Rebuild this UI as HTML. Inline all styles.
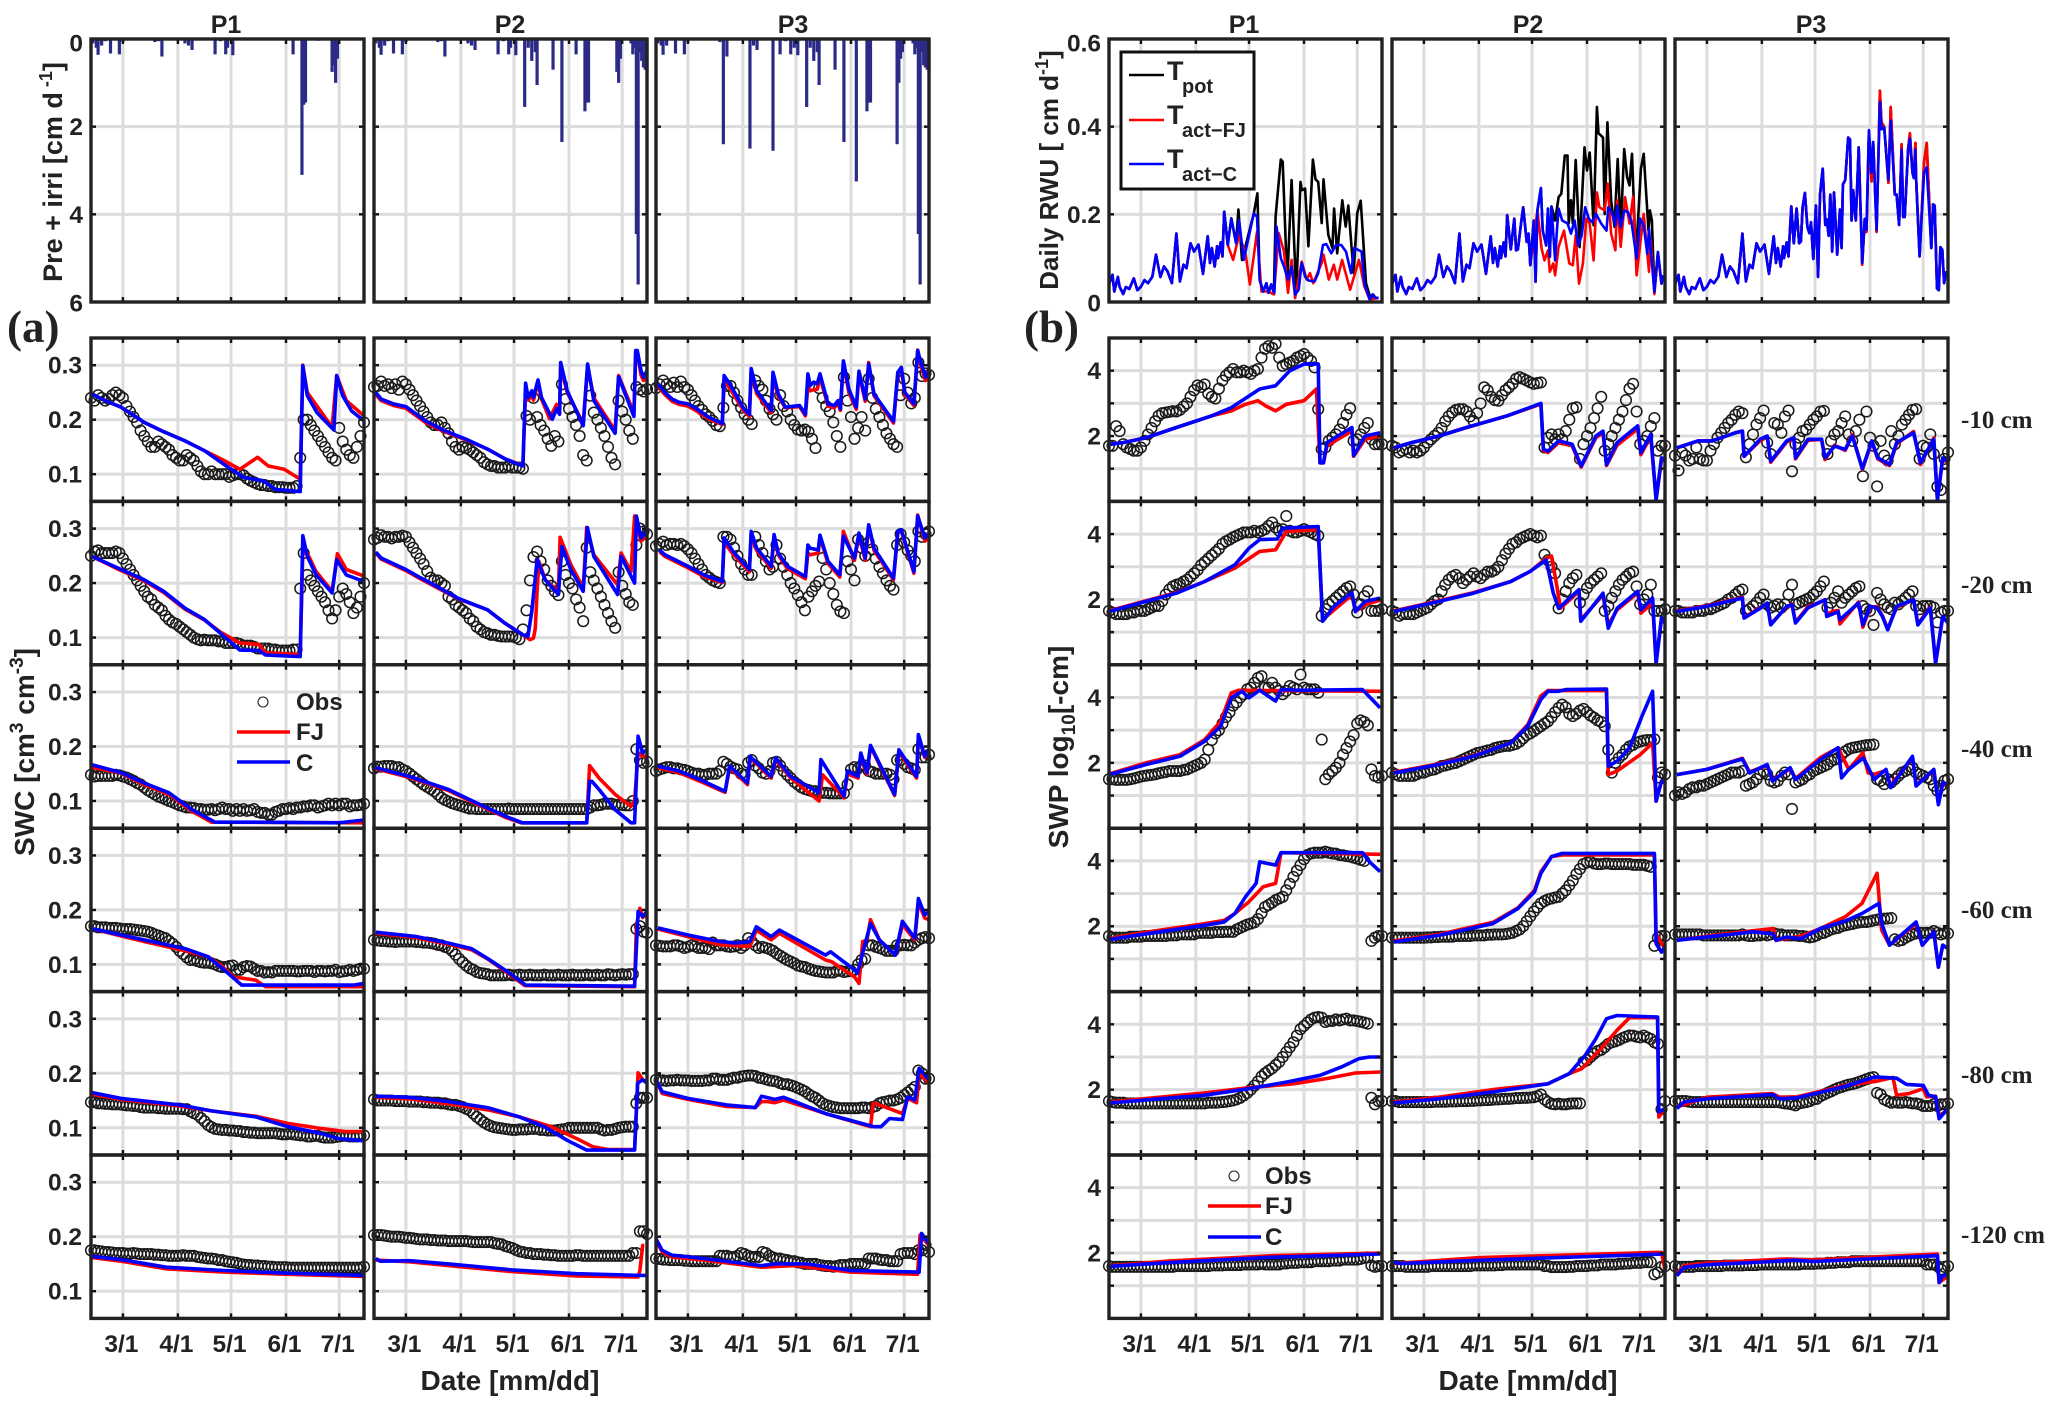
<!DOCTYPE html>
<html lang="en">
<head>
<meta charset="utf-8">
<title>Soil water content and potential panels</title>
<style>
html,body{margin:0;padding:0;background:#fff;}
svg{display:block;font-family:"Liberation Sans",sans-serif;}
text{fill:#222;font-weight:bold;}
.serif{font-family:"Liberation Serif",serif;}
</style>
</head>
<body>
<svg id="chart" xmlns="http://www.w3.org/2000/svg" width="2067" height="1415" viewBox="0 0 2067 1415">
<rect width="2067" height="1415" fill="#fff"/>
<g id="plots"></g>
<g>
<text x="226" y="33" font-size="25" text-anchor="middle">P1</text>
<text x="510" y="33" font-size="25" text-anchor="middle">P2</text>
<text x="793" y="33" font-size="25" text-anchor="middle">P3</text>
<text x="1244" y="33" font-size="25" text-anchor="middle">P1</text>
<text x="1528" y="33" font-size="25" text-anchor="middle">P2</text>
<text x="1811" y="33" font-size="25" text-anchor="middle">P3</text>
</g>
<text class="serif" x="7" y="342" font-size="45">(a)</text>
<text class="serif" x="1024" y="342" font-size="45">(b)</text>
<text transform="translate(62,172) rotate(-90)" font-size="27" text-anchor="middle">Pre + irri [cm d<tspan dy="-10" font-size="18"> -1</tspan><tspan dy="10">]</tspan></text>
<text transform="translate(34,752) rotate(-90)" font-size="28" text-anchor="middle">SWC [cm<tspan dy="-11" font-size="19">3</tspan><tspan dy="11"> cm</tspan><tspan dy="-11" font-size="19">-3</tspan><tspan dy="11">]</tspan></text>
<text transform="translate(1058,170) rotate(-90)" font-size="26" text-anchor="middle">Daily RWU [ cm d<tspan dy="-10" font-size="18">-1</tspan><tspan dy="10">]</tspan></text>
<text transform="translate(1068,747) rotate(-90)" font-size="28" text-anchor="middle">SWP log<tspan dy="7" font-size="19">10</tspan><tspan dy="-7">[-cm]</tspan></text>
<text x="510" y="1390" font-size="28" text-anchor="middle">Date [mm/dd]</text>
<text x="1528" y="1390" font-size="28" text-anchor="middle">Date [mm/dd]</text>
<g class="serif">
<text class="serif" x="1961" y="428" font-size="25">-10 cm</text>
<text class="serif" x="1961" y="593" font-size="25">-20 cm</text>
<text class="serif" x="1961" y="757" font-size="25">-40 cm</text>
<text class="serif" x="1961" y="918" font-size="25">-60 cm</text>
<text class="serif" x="1961" y="1083" font-size="25">-80 cm</text>
<text class="serif" x="1961" y="1243" font-size="25">-120 cm</text>
</g>
<g>
<rect x="1121" y="52" width="133" height="137" fill="#fff" stroke="#111" stroke-width="3"/>
<line x1="1129" x2="1164" y1="75" y2="75" stroke="#000" stroke-width="2.6"/>
<line x1="1129" x2="1164" y1="120" y2="120" stroke="#f00" stroke-width="2.6"/>
<line x1="1129" x2="1164" y1="164" y2="164" stroke="#00f" stroke-width="2.6"/>
<text x="1167" y="80" font-size="27">T<tspan x="1182" y="93" font-size="20">pot</tspan></text>
<text x="1167" y="124" font-size="27">T<tspan x="1182" y="137" font-size="20">act−FJ</tspan></text>
<text x="1167" y="168" font-size="27">T<tspan x="1182" y="181" font-size="20">act−C</tspan></text>
</g>
<g>
<circle cx="263" cy="702" r="5" fill="none" stroke="#222" stroke-width="1.1"/>
<text x="296" y="710" font-size="24">Obs</text>
<line x1="237" x2="290" y1="732" y2="732" stroke="#f00" stroke-width="3.6"/>
<text x="296" y="740" font-size="24">FJ</text>
<line x1="237" x2="290" y1="762" y2="762" stroke="#00f" stroke-width="3.6"/>
<text x="296" y="771" font-size="24">C</text>
</g>
<g>
<circle cx="1234" cy="1176" r="5" fill="none" stroke="#222" stroke-width="1.1"/>
<text x="1265" y="1184" font-size="24">Obs</text>
<line x1="1208" x2="1261" y1="1206" y2="1206" stroke="#f00" stroke-width="3.6"/>
<text x="1265" y="1214" font-size="24">FJ</text>
<line x1="1208" x2="1261" y1="1237" y2="1237" stroke="#00f" stroke-width="3.6"/>
<text x="1265" y="1245" font-size="24">C</text>
</g>
</svg>
<script>
// ---- shared categories / ticks ----
const monthDays=[0,31,61,92,122];
const monthLabels=['3/1','4/1','5/1','6/1','7/1'];
const dayDomain=[-18,136];
const obsFirstDay=-18, obsStepDays=2;
const swcDomain=[50,350]; const swcGrid=[100,200,300]; const swcTickLabels=['0.1','0.2','0.3'];
const swpDomain=[0,500]; const swpGrid=[100,200,300,400]; const swpTickLabels=['','2','','4'];
const precipDomain=[0,6]; const precipGrid=[2,4]; const precipTicks=[0,2,4,6];
const rwuDomain=[0,600]; const rwuGrid=[200,400]; const rwuTicks=[0,200,400,600]; const rwuTickLabels=['0','0.2','0.4','0.6'];

// ---- precipitation + irrigation: day, depth [cm/d] ----
const precipDaysP1=[-17,-15,-14,-12,-10,-7,-2,0,18,20,22,24,35,37,39,45,48,52,55,58,59,62,84,96,101,102,103,110,118,119,120,121];
const precipValsP1=[.1,.2,.36,.15,.05,.33,.35,.07,.07,.05,.4,.03,.1,.15,.25,.03,.03,.35,.05,.35,.2,.37,.02,.35,3.1,1.5,1.45,.04,.75,.6,1,.45];
const precipDaysP2=[-17,-15,-14,-12,-10,-7,-2,0,18,20,22,24,35,37,39,45,48,52,55,58,59,62,67,69,71,73,74,83,88,96,101,102,103,110,119,120,121,127,128,129,130,131,132,133,134,135,136];
const precipValsP2=[.1,.2,.36,.15,.05,.33,.35,.07,.07,.05,.4,.03,.1,.15,.25,.03,.03,.35,.05,.35,.2,.37,1.55,.2,.5,.3,1.05,.7,2.35,.35,1.65,1.45,1.45,.03,.75,1,.45,.1,.35,.2,4.45,5.6,.3,.5,.65,.7,.75];
const precipDaysP3=[-17,-15,-14,-12,-10,-7,-2,0,18,20,22,24,35,37,39,45,48,52,55,58,60,62,67,69,71,73,74,83,88,95,101,102,103,110,118,119,120,121,127,128,129,130,131,132,133,134,135,136];
const precipValsP3=[.1,.15,.36,.15,.03,.33,.35,.07,.07,2.4,.4,.03,2.5,.15,.25,.03,2.55,.35,.05,.35,.2,.37,1.55,.2,.5,.3,1.05,.7,2.35,3.25,1.65,1.45,1.45,.03,2.4,1,.45,.3,.1,.35,.2,4.45,5.6,.3,.6,.65,.7,.75];

// ---- daily root water uptake: day, value [0.001 cm/d] ----
const rwuEarly=[-18,40,-16,62,-15,24,-13,57,-12,35,-10,18,-8.5,34,-6.5,30,-4,54,-2,27,0,35,2,50,4,43,6.5,58,8.5,108,11,57,13,81,15,70,17.5,43,20,156,22,47,24,85,25.7,77,28,134,30,115,32.5,131,35,64,37.7,150,39,89,40,123,41.6,81,43,127,43.5,100,45,136,46,104];
const rwuLateC3=[47.6,218,49,134,50.6,213,52,134,53,138,54,216,55.3,249,56.7,171,57.8,157,58.7,182,60,98,61.5,220,62.7,57,63.8,245,65.3,304,66.8,176,67.6,189,68.7,151,69.6,245,70.7,115,71.7,250,73.5,108,75,211,76,123,76.7,268,78,278,79.7,375,80.7,371,81.6,186,82.5,255,84,186,85.6,353,87.6,89,89,190,90,165,91.4,392,92.9,295,93.8,365,95.7,165,97.6,456,98.5,394,100,398,102.4,279,103.7,414,106,245,107,245,108.4,176,109.8,348,110.7,194,111.6,194,113.5,348,114.5,373,116,295,116.7,283,117.6,348,118,283,120,104,122.5,295,124,307,126.6,123,127.6,223,128.5,220,129.8,31,130.8,27,131.7,125,132.8,119,133.8,43,135,70];
const rwuLateF3=[47.6,218,49,134,50.6,213,52,134,53,138,54,216,55.3,249,56.7,171,57.8,157,58.7,182,60,98,61.5,220,62.7,57,63.8,245,65.3,304,66.8,176,67.6,189,68.7,151,69.6,245,70.7,115,71.7,250,73.5,108,75,211,76,123,76.7,268,78,278,79.7,375,80.7,371,81.6,186,82.5,255,84,186,85.6,353,87.6,85,89,185,90,160,91.4,388,92.9,275,93.8,365,95.7,160,97.6,482,98.5,410,100,400,102.4,272,103.7,445,106,245,107,245,108.4,176,109.8,360,110.7,194,111.6,194,113.5,348,114.5,385,116,295,116.7,283,117.6,363,118,283,120,104,122.5,320,124,363,126.6,123,127.6,223,128.5,220,129.8,31,130.8,27,131.7,125,132.8,119,133.8,43,135,70];
const rwuLatePotP1=[47,206,49,130,51,191,53.7,134,55,211,57,96,63.7,202,65.7,248,67,50,69,24,70.8,43,72,21,73.5,40,75,21,76,195,78.9,325,80,320,82.5,45,85,278,87.6,20,90,274,90.7,255,92.6,259,94.5,127,97,325,98.5,280,100,274,102,180,103,280,105.7,153,108,123,109,213,110.7,111,113.6,232,115.5,172,117,220,120,66,122,202,124,231,127,43,129.7,6,131,17,132.5,9,134,10];
const rwuLateFJP1=[47,206,49,130,52,96,55.4,153,59,111,61.5,40,65.5,160,68,24,70,24,72,24,75,17,77.7,157,80.7,115,83,21,85,96,87,9,90.7,92,93.5,51,95.4,66,97.2,43,102,89,103,108,106,51,108.8,85,110.7,51,113.5,96,118,28,123,96,126,36,129,6,134,9];
const rwuLateCP1=[47,206,49,130,51,191,53.7,134,55.4,187,58,96,63.7,202,65.5,195,67,50,69,24,70.8,43,72,21,73.5,40,75.3,21,76.5,172,78.9,100,80.7,81,83,51,85,81,87,17,89,28,90.7,89,92.6,58,94.5,49,98,47,100,66,102.7,130,104.6,132,107.4,111,110,130,113,130,115.7,115,118.5,66,120.4,123,124.5,115,126,43,129,6,130.6,17,132.5,9,134,10];
const rwuLateCP2=[47,198,49,120,51,190,52,118,53,120,55,186,56,216,58,137,59,156,60,84,62,186,63,46,64,209,66,260,67,163,69,129,70,213,71,103,72,218,74,95,75,163,76,213,78,186,81,179,83,156,85,186,87,129,89,152,91,216,93,190,95,182,97,201,100,179,103,163,104,216,106,205,108,175,109,220,111,171,113,209,115,205,117,186,120,99,122,190,124,175,126,110,127,167,130,23,132,114,134,42,135,61];
const rwuLateFJP2=[47,198,49,120,51,190,52,118,53,120,55,186,56,216,58,137,59,156,60,84,64,209,66.4,122,68,95,70,118,71,69,73,88,74,61,76,126,79,163,82,88,84,84,85.6,152,87.5,42,89.7,88,91.6,190,93.5,179,95.7,95,97.6,250,99,216,102,209,103.7,270,105.6,156,108,118,109,232,111,126,113.5,239,116,179,118,240,120,61,124,201,127,69,128,141,130,18,132,110,134,42,135,61];
const rwuLatePotP2=[47,198,49,120,51,190,52,118,53,120,55,186,56,216,58,137,59,156,60,84,62,186,63,46,64,209,66,260,67,163,69,129,70,213,71,103,72,218,74,186,76,239,77.5,247,79.5,334,81,334,81.7,179,83,232,84,179,85.6,324,87.8,125,90.6,353,92,300,93.5,341,95.7,175,97.6,445,98.5,385,101,375,102,201,103.5,410,105.6,232,107.5,171,109.3,326,111,163,113,349,114.6,285,116,266,117.4,338,119.6,99,122.4,304,124,338,126.7,163,127.5,209,128.6,186,130,23,132,114,134,42,135,61];
const rwuCP1=rwuEarly.concat(rwuLateCP1), rwuFJP1=rwuEarly.concat(rwuLateFJP1), rwuPotP1=rwuEarly.concat(rwuLatePotP1);
const rwuCP2=rwuEarly.concat(rwuLateCP2), rwuFJP2=rwuEarly.concat(rwuLateFJP2), rwuPotP2=rwuEarly.concat(rwuLatePotP2);
const rwuCP3=rwuEarly.concat(rwuLateC3), rwuFJP3=rwuEarly.concat(rwuLateF3), rwuPotP3=rwuEarly.concat(rwuLateF3);

// ---- SWC observations: every 2 days from day -18 [0.001 cm3/cm3] ----
const swcObs10P1=[240,235,245,240,235,238,245,250,245,240, 225,215,205,195,180,170,160,150,150,160, 155,150,145,135,130,125,125,135,130,125, 115,105,100,100,105,100,100,100,100,95, 98,100,100,98,92,88,85,82,80,80, 78,78,76,76,76,75,75,75,78,130, 200,200,190,180,170,160,150,140,130,125, 185,160,145,135,130,150,170,195];
const swcObs10P2=[260,262,270,262,265,258,265,255,270,265, 255,245,235,225,215,205,195,190,190,195, 185,175,160,150,145,150,148,145,140,135, 130,122,118,115,115,112,112,112,115,112, 112,112,110,207,200,240,205,190,180,165, 152,170,160,265,238,220,205,190,170,135, 125,244,213,200,185,170,150,130,118,235, 215,200,180,165,260,255,252,256];
const swcObs10P3=[258,265,272,265,260,268,260,270,260,255, 245,235,225,218,210,205,198,190,188,222, 262,262,250,235,222,210,200,192,272,262, 255,235,220,210,200,245,225,215,200,190, 182,180,182,178,165,148,258,240,225,215, 195,170,150,278,235,205,165,185,205,180, 275,240,220,205,190,175,165,155,150,245, 275,250,230,240,305,280,285,282];
const swcObs20P1=[250,258,260,255,255,255,255,258,255,245, 235,225,215,205,195,185,175,170,160,155, 150,140,133,128,125,120,115,110,105,100, 97,95,96,95,95,95,93,93,90,90, 90,90,88,85,85,85,83,80,80,80, 80,78,78,76,76,76,76,78,78,190, 255,215,205,195,185,175,165,150,135,150, 175,190,180,165,145,155,175,200];
const swcObs20P2=[280,283,288,285,285,282,285,285,287,285, 275,265,255,245,235,222,210,205,205,200, 195,175,170,160,155,150,145,135,130,120, 115,110,108,105,105,103,102,102,102,102, 100,97,115,150,205,248,258,240,225,205, 195,185,178,240,215,200,190,170,155,130, 265,220,205,190,175,160,145,130,118,220, 195,180,165,160,270,300,295,290];
const swcObs20P3=[268,272,276,270,272,272,270,272,268,262, 255,245,235,225,215,210,205,202,200,285, 285,280,265,250,235,225,215,215,285,270, 255,240,225,230,270,245,230,215,200,190, 178,165,150,175,185,195,203,246,225,200, 180,160,148,145,240,225,205,280,265,250, 275,262,245,230,218,205,195,188,270,290, 275,260,250,240,295,285,290,295];
const swcObs40P1=[148,145,146,146,146,146,146,148,147,145, 143,140,137,133,130,125,120,116,112,108, 106,103,100,98,95,92,90,88,88,87, 85,85,84,84,85,83,85,88,85,85, 82,85,82,85,82,83,85,80,78,78, 75,75,80,82,85,85,87,85,88,88, 90,90,92,92,88,90,92,95,92,95, 92,95,95,90,92,92,93,95];
const swcObs40P2=[160,163,163,164,164,164,162,162,158,155, 150,145,140,135,130,126,122,118,112,106, 102,99,96,94,92,90,88,86,86,85, 85,85,85,85,85,85,85,85,86,85, 85,85,85,85,85,85,85,85,85,85, 85,85,85,85,85,85,85,85,85,85, 85,88,92,92,93,95,95,95,93,93, 93,92,92,100,195,175,170,172];
const swcObs40P3=[155,158,160,162,162,160,160,158,157,155, 152,150,150,148,148,150,150,150,155,172, 168,163,160,158,150,148,170,175,165,160, 152,150,155,170,172,165,155,148,142,135, 130,125,122,120,118,118,116,115,115,114, 114,114,114,114,130,158,162,160,165,165, 155,153,150,150,150,150,148,140,175,175, 168,162,160,157,195,180,180,185];
const swcObs60P1=[170,170,168,168,168,167,167,167,166,165, 165,165,164,163,162,161,160,158,155,153, 150,148,143,138,132,125,119,113,108,108, 106,104,103,103,102,100,97,95,95,97, 98,90,90,95,97,96,92,88,88,85, 86,85,88,88,88,88,88,88,87,87, 88,88,88,86,88,88,87,88,88,90, 86,87,88,90,88,90,92,92];
const swcObs60P2=[145,144,143,143,142,142,141,142,142,142, 142,142,141,141,140,140,139,138,136,135, 132,130,125,118,110,104,98,93,90,86, 84,83,82,80,80,80,80,80,81,80, 80,81,80,80,81,80,80,80,81,80, 80,80,81,80,80,80,81,80,80,80, 81,80,80,81,80,80,82,81,80,81, 82,81,82,82,165,170,160,158];
const swcObs60P3=[135,134,133,133,133,135,135,133,130,132, 135,133,130,130,130,128,140,135,135,135, 133,132,133,135,130,135,148,142,135,130, 132,130,128,125,120,116,112,108,105,102, 98,96,95,92,90,88,87,86,85,85, 85,88,88,86,87,88,90,100,108,110, 135,135,132,130,128,125,125,125,135,135, 136,135,135,140,145,148,150,148];
const swcObs80P1=[147,147,145,145,144,144,143,143,143,142, 141,141,140,140,138,137,137,137,137,136, 136,135,135,135,135,135,134,134,130,127, 124,118,112,105,101,98,97,96,96,95, 95,94,94,92,92,91,91,90,90,90, 90,90,90,89,88,88,89,88,87,86, 86,84,84,85,85,83,82,82,82,83, 84,85,85,84,84,84,85,86];
const swcObs80P2=[152,150,150,150,150,150,149,149,149,149, 148,148,148,148,147,147,146,146,146,145, 145,143,142,142,140,138,135,132,126,120, 115,110,106,103,101,100,99,98,97,96, 96,97,97,97,98,98,98,96,96,95, 95,95,96,97,98,100,100,100,100,100, 100,100,100,100,97,95,96,96,98,100, 101,102,102,102,145,155,155,155];
const swcObs80P3=[188,187,187,186,187,187,188,187,187,187, 186,186,186,186,187,187,190,190,188,188, 188,190,192,192,194,195,196,196,195,192, 191,189,187,186,185,182,180,180,178,176, 173,170,167,162,158,155,150,145,142,140, 138,137,136,136,136,136,136,136,137,137, 136,138,140,145,147,148,150,150,152,155, 160,165,170,175,205,200,190,190];
const swcObs120P1=[175,175,174,173,172,172,171,170,170,170, 169,169,170,169,168,168,168,168,167,167, 166,166,165,165,165,165,166,165,165,165, 163,162,161,160,160,159,157,157,155,154, 153,152,150,149,148,148,147,147,146,146, 145,145,144,144,144,144,143,143,143,143, 143,143,143,143,143,143,143,143,143,143, 143,143,143,143,143,143,143,145];
const swcObs120P2=[203,203,203,202,201,200,200,200,199,198, 198,197,196,195,195,195,194,194,193,193, 193,192,192,192,192,192,192,191,190,190, 190,190,190,190,188,187,186,183,181,179, 176,173,172,170,170,168,168,168,167,167, 166,166,165,165,165,165,165,166,166,165, 165,165,165,165,165,165,165,165,165,165, 165,165,165,170,170,210,210,205];
const swcObs120P3=[160,159,158,158,157,157,157,157,156,156, 155,155,155,155,155,155,155,155,165,165, 165,163,163,165,170,168,165,163,163,163, 172,170,165,162,160,160,158,157,155,155, 153,152,150,150,150,150,148,147,146,146, 145,146,148,148,148,150,150,150,150,150, 160,160,160,158,157,157,155,155,155,168, 170,170,170,168,175,175,185,172];

// ---- SWC simulations: day, value pairs [0.001 cm3/cm3] ----
const swcC10P1=[-18,248,-10,235,-1,223,12,195,23,178,35,161,46,143,57,118,68,94,79,88,86,72,100,68,101.5,299,104,244,109.5,213,119,181,120.6,281,124,244,129,216,136,198];
const swcF10P1=[-18,248,-10,235,-1,223,12,195,23,178,35,161,46,143,57,125,66,109,76,131,82,115,91,109,100,91,101.5,300,104,250,118,186,120.6,281,126,235,136,207];
const swcC10P2=[-17,250,-14,238,-7,229,0,224,11,198,21,181,34,164,46,146,56,128,66,115,67.5,267,69,241,71,253,72,241,74.5,273,76.5,241,82.6,201,85,220,86.7,210,87.3,305,91,253,100,189,102.5,302,106,235,118,175,120,279,128.6,206,129.6,327,130.5,327,132.6,290,134,278,136,290];
const swcF10P2=[-17,246,-14,235,-7,226,0,221,11,195,21,179,34,163,46,146,56,128,66,116,67.5,255,69,236,71,246,72,236,74.5,268,76.5,238,81,202,85,228,86.7,222,87.3,298,91,250,100,193,102.5,298,106,240,118,180,120,281,128.6,212,129.6,325,130.5,325,132.6,282,134,272,136,285];
const swcC10P3=[-17,266,-13,250,-9,238,-5,232,0,229,5,220,12,204,19.4,193,20.4,281,23.5,266,31.6,220,34.7,210,35.7,294,38.8,253,47,217,48,287,51,247,55,223,63,226,66.3,210,67.7,284,69,263,71,269,73,266,74.5,284,79,229,82.6,226,84.7,235,86,220,87.7,308,90.8,256,95,223,96.5,289,100,238,102,302,105,247,116,197,118.4,287,120.4,296,122.4,250,127.5,229,129.6,327,130.6,315,134,278,136,290];
const swcF10P3=[-17,262,-13,246,-9,234,-5,228,0,225,5,216,12,201,19.4,191,20.4,272,23.5,258,31.6,216,34.7,206,35.7,290,38.8,248,47,213,48,280,51,242,55,222,63,224,66.3,207,67.7,262,69,253,71,255,73,256,74.5,278,79,225,82.6,222,84.7,230,86,217,87.7,305,90.8,250,95,219,96.5,286,100,234,102,305,105,244,116,194,118.4,284,120.4,294,122.4,246,127.5,226,129.6,328,130.6,308,134,272,136,285];
const swcC20P1=[-18,250,-1,225,12,206,23,185,35,154,46,133,55,108,66,77,77,76,80.5,68,100,65,101.5,287,104,249,109,215,118,182,120.6,243,126,215,136,203];
const swcF20P1=[-18,250,-1,223,12,204,23,183,35,152,46,132,55,110,66,90,77,87,80.5,72,100,69,101.5,255,104,255,109,221,118,185,121,254,126,225,136,213];
const swcC20P2=[-17,257,-14,246,0,225,7,212,19,191,29.6,172,46,151,56,126,66,105,68.8,102,71,148,74,243,78.6,206,86,179,88,267,93,225,100,185,102.4,302,106,249,119.4,179,121.4,249,129,200,130,323,132.6,283,135.7,295];
const swcF20P2=[-17,255,-14,244,0,223,7,210,19,189,29.6,171,46,151,56,126,66,105,70,96,72,99,73,117,74,185,75,240,78.6,206,86,185,87,284,93,234,100,191,102,302,106,252,119.4,197,121.4,255,127,221,129,323,132.6,277,135.7,286];
const swcC20P3=[-16,261,-13,252,0,231,9,215,19.4,203,20.4,283,25.5,258,34.7,225,35.7,295,38.8,264,47,231,48.6,289,51,255,56,231,66.3,212,67.7,270,69,264,73.5,261,74.5,288,79,240,85.7,215,87.7,286,94,246,96.5,292,100,246,102,307,105,264,116,209,118.4,295,120.4,298,127.5,221,129.6,323,133.7,283,136,292];
const swcF20P3=[-16,258,-13,249,0,228,9,212,19.4,201,20.4,275,25.5,253,34.7,221,35.7,290,38.8,260,47,227,48.6,285,51,252,56,227,66.3,208,67.7,255,69,252,73.5,255,74.5,285,79,236,85.7,211,87.7,295,94,242,96.5,288,100,242,102,305,105,260,116,206,118.4,292,120.4,296,127.5,218,129.6,325,133.7,277,136,285];
const swcC40P1=[-18,167,-1,152,12,133,26,115,39,84,52,61,75,61,122,60,136,65];
const swcF40P1=[-18,162,-1,151,12,130,26,112,39,81,50,61,136,60];
const swcC40P2=[-17,161,2,145,24,121,42,93,56,72,65.7,60,102,60,103.6,136,105,136,109,121,118,84,127,60,129,60,131,219,133.6,188,136,194];
const swcF40P2=[-17,159,2,143,24,119,42,91,56,70,65,60,102,60,103.6,165,109,142,118,112,127,90,129,100,131,188,133.6,182,136,182];
const swcC40P3=[-17,164,-5,155,7,139,21,118,23.5,164,33.6,133,35,182,47,145,49.5,179,58,145,74,115,75,176,88,109,90,155,96,145,97.5,188,101,152,103,202,116.6,112,119,194,129,145,130,222,133.6,182,136,194];
const swcF40P3=[-17,161,-5,152,7,136,21,116,23.5,161,33.6,130,35,180,47,142,49.5,176,58,142,74,100,76,148,88,106,90,150,96,142,97.5,185,101,149,103,200,116.6,110,119,190,129,142,130,218,133.6,180,136,190];
const swcC60P1=[-18,166,-1,154,12,145,35,129,48,114,57,90,67,62,79,62,130,62,136,65];
const swcF60P1=[-18,166,-1,152,12,142,35,125,48,114,55,99,62.5,77,75,71,80.5,59,136,59];
const swcC60P2=[-17,159,6,151,24,139,37,129,46,111,57,87,67.5,62,129,60,131,197,133.6,188,136,197];
const swcF60P2=[-17,157,6,149,24,137,37,127,46,110,57,85,67,61,129,59,130,170,132,203,133.6,186,136,194];
const swcC60P3=[-17,167,0,154,18,142,27,139,35,142,38.6,169,47,151,51.6,163,77.6,117,80.5,123,94,90,95.7,84,99,126,103,175,108,145,117,117,121,179,128,148,130,221,133.6,191,136,197];
const swcF60P3=[-17,165,0,151,18,136,35,133,38.6,163,47,145,51.6,157,77.6,108,81,105,94,77,96.5,65,98.6,142,101,145,103,182,108,145,117,117,121,173,128,145,130,215,133.6,185,136,182];
const swcC80P1=[-18,165,-1,154,32,142,50,131,75,120,93,102,111,90,122,80,136,76];
const swcF80P1=[-18,162,-1,152,32,140,50,131,75,121,93,108,111,99,126,93,136,93];
const swcC80P2=[-17,158,2,156,24,148,46,137,64,120,78,102,91,77,102,59,129,59,130.7,182,133.6,188,136,182];
const swcF80P2=[-17,156,2,153,24,144,46,133,64,120,82,102,96.5,80,105.5,65,114.5,60,129,60,131,201,133.6,188,136,185];
const swcC80P3=[-18,188,-14.5,166,0,154,21.7,142,38,137,41.5,158,49,152,54,156,77.6,126,105,102,109,102,113.7,117,121,115,124,157,128,151,130.4,209,133.6,197,136,188];
const swcF80P3=[-18,188,-14.5,163,0,152,21.7,139,38,137,41.5,148,45,148,49,146,54,151,77.6,126,103,102,104.5,145,108,142,121,126,124,154,129,146,130.4,200,136,182];
const swcC120P1=[-18,164,-1,158,24.5,144,57,138,93,133,136,129];
const swcF120P1=[-18,162,-1,155,24.5,141,57,135,93,131,136,127];
const swcC120P2=[-17,160,-14.5,155,2,156,24,150,60,139,96,132,132,129,136,129];
const swcF120P2=[-17,157,2,154,24,147,60,136,96,128,131,126,132,138,133.6,184,134.5,184];
const swcC120P3=[-18,196,-14.5,175,-9,166,9,160,41.5,147,49,150,67,150,92,138,130.4,135,131.8,206,136,187];
const swcF120P3=[-18,193,-14.5,172,-9,163,9,157,41.5,144,60,147,92,135,129.5,131,131,203,136,184];

// ---- SWP observations: every 2 days from day -18 [0.01 log10 -cm] ----
const swpObs10P1=[170,170,230,215,175,165,160,155,155,165, 185,205,225,245,262,270,272,274,276,275, 280,290,300,320,340,355,350,358,330,320, 315,345,370,385,395,405,395,395,400,395, 390,400,405,440,467,475,470,482,440,415, 420,425,430,440,445,451,440,430,410,282, 160,165,185,195,205,220,240,265,285,185, 190,205,225,240,190,175,175,175];
const swpObs10P2=[170,165,150,155,160,150,155,150,155,165, 180,190,200,210,225,245,260,272,280,282, 282,275,260,246,270,300,349,340,320,310, 308,325,340,349,360,375,380,375,370,364, 360,362,364,165,195,205,190,205,190,215, 250,285,288,130,175,200,225,255,285,320, 155,175,200,225,250,275,310,345,360,275, 175,185,200,230,255,155,170,170];
const swpObs10P3=[140,95,150,140,125,130,165,130,125,125, 155,175,195,210,225,240,250,265,275,270, 135,175,205,235,255,278,180,145,240,235, 210,260,278,92,175,195,215,220,235,250, 260,275,277,145,185,205,215,240,260,205, 185,215,250,77,275,195,170,46,185,140, 125,215,175,200,235,250,265,280,282,130, 170,165,205,145,45,35,130,150];
const swpObs20P1=[165,160,155,155,155,155,160,160,165,165, 165,170,175,180,180,195,215,230,240,245, 248,255,260,270,280,290,305,315,325,335, 345,355,370,378,383,390,395,400,405,405, 405,410,405,410,415,425,435,420,410,415, 455,410,405,405,410,415,410,405,400,395, 150,170,185,195,205,215,225,235,240,215, 160,185,210,225,165,165,165,170];
const swpObs20P2=[165,160,150,155,155,155,155,160,165,170, 175,185,195,200,225,245,260,270,275,265, 250,260,270,280,270,265,275,285,285,290, 300,320,340,355,370,375,385,390,395,400, 395,390,395,337,320,300,280,173,200,225, 250,265,275,190,215,235,250,260,270,280, 165,180,205,225,245,260,270,280,285,240, 185,200,215,245,165,165,165,170];
const swpObs20P3=[165,165,160,160,160,160,165,165,165,170, 170,175,180,185,190,200,205,215,225,230, 165,170,180,190,205,215,185,175,180,185, 175,185,215,245,185,190,195,200,205,215, 225,240,255,175,190,205,225,190,205,215, 225,235,240,180,170,165,122,220,200,185, 175,170,190,185,195,205,215,225,180,170, 180,180,180,175,130,160,165,165];
const swpObs40P1=[150,150,148,148,148,148,150,152,155,158, 160,162,163,165,168,170,172,175,175,175, 175,178,180,185,190,195,200,210,240,270, 290,300,320,340,355,375,385,400,410,425, 430,445,460,465,430,430,445,430,420,410, 420,435,430,425,470,430,425,425,425,415, 271,150,165,175,185,200,225,245,265,285, 320,330,325,315,180,160,155,160];
const swpObs40P2=[170,165,160,160,160,160,160,165,170,170, 175,178,180,185,190,192,195,198,200,205, 210,215,220,225,230,232,235,238,240,245, 248,250,252,252,255,258,265,275,285,290, 297,305,312,320,327,340,355,368,378,370, 350,343,350,360,365,355,345,338,330,325, 312,240,170,200,215,225,240,250,255,262, 265,268,270,270,272,155,170,165];
const swpObs40P3=[100,110,105,110,120,125,125,130,130,135, 140,145,150,155,160,165,170,170,170,175, 130,135,140,150,165,175,165,145,140,145, 160,170,165,59,140,145,150,160,165,175, 180,185,190,195,205,210,215,225,235,242, 246,248,250,252,254,255,256,150,145,135, 150,140,150,160,170,175,180,185,170,165, 160,155,150,130,115,130,145,150];
const swpObs60P1=[170,165,165,165,165,165,168,168,168,168, 170,170,170,170,170,170,170,172,172,172, 175,175,175,175,175,180,180,180,180,180, 182,182,182,183,183,183,190,195,200,205, 208,212,222,240,259,265,272,280,285,290, 310,330,351,370,387,405,418,423,425,425, 425,428,425,423,422,418,417,415,413,410, 407,403,400,,155,165,170,170];
const swpObs60P2=[165,165,165,165,165,165,165,165,165,165, 166,166,167,167,168,168,168,168,170,170, 170,170,170,172,172,172,172,174,174,175, 175,175,176,178,180,185,190,200,215,230, 245,258,270,277,282,285,288,290,300,310, 325,340,360,375,390,395,397,392,390,390, 392,392,390,390,390,390,390,390,388,388, 388,388,385,382,140,165,170,170];
const swpObs60P3=[175,175,175,175,175,175,175,175,172,172, 172,172,172,172,172,172,172,172,172,175, 172,170,170,172,172,175,172,175,178,175, 175,172,172,172,172,170,170,168,166,168, 172,178,180,185,190,193,195,200,203,205, 207,210,212,213,213,215,218,220,222,223, 224,225,160,155,158,165,170,175,178,180, 180,180,180,185,180,175,178,178];
const swpObs80P1=[165,162,160,160,160,158,158,158,158,158, 158,158,158,158,158,158,158,158,158,158, 158,158,158,158,158,158,158,158,160,160, 160,161,162,163,165,167,170,175,182,190, 200,212,225,240,250,258,265,275,285,300, 315,330,345,365,385,395,405,415,420,422, 420,407,410,410,415,412,415,417,412,412, 410,408,405,402,175,155,165,165];
const swpObs80P2=[165,165,162,162,162,162,162,162,162,162, 162,162,163,163,163,163,164,164,164,165, 165,165,166,166,167,167,168,168,169,170, 170,171,172,172,173,174,174,175,175,176, 177,180,185,170,162,157,155,157,155,155, 157,158,158,158,285,290,300,310,318,322, 330,340,345,348,352,358,362,366,365,362, 360,365,360,355,345,340,140,165];
const swpObs80P3=[165,165,165,165,163,162,162,162,162,162, 162,162,162,162,162,162,162,162,162,162, 162,162,162,162,162,162,162,162,162,162, 160,158,157,155,152,158,160,162,165,170, 172,180,185,190,195,200,205,208,212,215, 217,220,224,228,232,236,238,190,185,170, 165,160,162,160,160,162,160,158,158,155, 150,150,150,155,150,155,155,158];
const swpObs120P1=[160,158,158,158,158,158,158,158,158,158, 158,158,158,158,158,158,158,158,158,160, 160,160,160,160,160,160,160,160,160,162, 162,162,162,163,163,163,163,163,165,165, 165,165,165,167,165,165,165,165,165,168, 168,170,170,170,172,172,172,172,175,175, 175,175,175,177,177,177,180,180,180,180, 180,182,185,187,162,158,160,160];
const swpObs120P2=[160,160,160,160,158,158,158,158,158,158, 158,160,160,160,160,160,160,160,160,160, 160,160,160,162,162,162,162,162,162,162, 163,163,165,165,165,165,165,165,165,165, 165,165,165,160,160,157,157,157,157,157, 158,158,160,160,160,160,162,162,162,165, 165,165,165,165,167,167,168,168,170,170, 170,172,172,172,135,140,158,160];
const swpObs120P3=[160,158,158,158,158,158,160,160,160,160, 160,160,160,160,162,162,162,162,162,162, 163,163,163,163,165,165,165,165,165,165, 165,165,165,165,165,165,167,167,167,167, 168,168,168,170,170,170,172,172,172,172, 175,175,175,175,175,175,175,175,175,175, 175,175,175,175,175,175,175,175,175,175, 175,165,165,165,160,150,158,160];

// ---- SWP simulations: day, value pairs [0.01 log10 -cm] ----
const swpC10P1=[-18,174,-10,180,3,195,20,226,40,262,51,287,67,344,76,354,84,400,92,420,100,420,101,118,103,118,105,180,119,226,120,140,126.4,200,135,210];
const swpF10P1=[-18,174,-10,180,3,195,20,226,40,262,51,277,59,297,66,308,70.5,292,76,277,82,297,92,308,99,344,101,118,103,118,105,170,119,216,120,138,126.4,190,135,200];
const swpC10P2=[-17,164,-7,180,8.5,200,24,226,47,262,66,300,67.4,159,70,154,76,185,83.6,175,88.7,108,97,200,101,215,103,113,109,180,120.6,231,122.4,149,128,205,131,5,134,133,136,128];
const swpF10P2=[-17,164,-7,180,8.5,200,24,226,47,262,66,298,67.4,155,70,150,76,180,83.6,170,88.7,105,97,195,101,210,103,110,109,172,120.6,222,122.4,143,128,200,131,5,134,128,136,125];
const swpC10P3=[-17,164,-5,185,3,185,16,210,20,215,21,138,30,190,34,200,36,123,45,185,49,195,50,133,57,190,64.7,190,66.6,133,72,169,78,159,82,200,87.7,100,93,185,96.4,133,103,113,107,180,116.6,210,120.5,118,128,190,130,5,133,133,136,122];
const swpF10P3=[-17,164,-5,185,3,185,16,210,20,215,21,138,30,186,34,197,36,120,45,182,49,192,50,130,57,187,64.7,190,66.6,128,72,172,78,156,82,204,87.7,98,93,182,96.4,130,103,110,107,176,116.6,214,120.5,113,128,194,130,5,133,130,136,118];
const swpC20P1=[-18,163,3,194,20,219,36,255,53,306,61,357,67,383,77,385,80,418,100,423,102.5,133,109,179,119,221,121,163,126.5,194,135,204];
const swpF20P1=[-18,165,3,196,20,221,36,255,53,296,67,347,76,352,82,408,100,413,102.5,138,119,214,121,163,126.5,184,135,198];
const swpC20P2=[-17,163,8.5,194,28,219,49,255,60,286,69,321,73,219,76,173,87.5,230,88.5,133,101,219,104,112,109,173,120.6,225,122.4,168,129,204,131,5,134,143,136,128];
const swpF20P2=[-17,165,8.5,196,28,221,49,255,60,286,69,326,72,333,75,240,77,173,87.5,225,88.5,138,101,214,104,122,109,168,120.6,220,122.4,158,129,189,131,5,134,143,136,128];
const swpC20P3=[-17,163,0,179,20,204,21,143,30,173,34,189,36,122,45,179,48,184,50,128,57,174,66.6,199,67.6,148,72,158,74,163,75,138,85.5,189,88,122,92,179,96,174,99,148,102,107,107,179,116.6,199,119,122,126,174,129,5,133,148,136,128];
const swpF20P3=[-17,165,0,181,20,206,21,145,30,175,34,186,36,125,45,176,48,186,50,130,57,178,66.6,197,67.6,155,72,165,74,166,75,125,85.5,192,88,115,92,176,96,178,99,150,102,110,107,176,116.6,199,119,125,126,176,129,5,133,145,136,130];
const swpC40P1=[-18,164,3,195,22,220,36,266,45,312,51,399,57,419,61,399,67,422,76,389,79,424,90,422,125,424,135,368];
const swpF40P1=[-18,166,3,200,22,225,36,271,45,327,51,414,55,422,136,419];
const swpC40P2=[-17,169,8.5,195,28,220,49,261,58.6,312,66,394,70,419,76,419,80,424,103,426,104,190,109,205,116,246,123,343,129,419,131,83,134,144,136,139];
const swpF40P2=[-17,171,8.5,197,28,222,49,261,58.6,317,66,405,70,421,103,421,104,164,109,175,122,225,129,261,131,83,134,144,136,139];
const swpC40P3=[-17,164,0,180,20,212,24,169,34,195,37,144,47,185,50,149,64,210,74,246,76,154,80,180,88.2,215,94.4,149,101,180,103.6,124,116,220,118,129,128,180,130.6,72,133,139,136,134];
const swpF40P3=[-17,164,0,180,20,214,24,172,34,192,37,147,47,182,50,152,64,216,74,246,80,180,88,231,91,169,94.4,165,101,177,103.6,130,116,217,118,132,128,177,130.6,75,133,135,136,132];
const swpC60P1=[-18,159,3,177,36,203,47,213,53,239,59,290,65,331,67,397,76,387,79,425,125,425,129,397,135,367];
const swpF60P1=[-18,162,3,182,36,208,47,218,53,239,61,275,69,321,76,331,79,425,135,420];
const swpC60P2=[-17,152,8.5,172,39,208,53,254,62.4,305,66,362,72,413,78,423,130,423,131,147,134,121,136,137];
const swpF60P2=[-17,155,8.5,175,39,212,53,256,62.4,310,66,367,72,413,78,418,130,418,131,177,134,147,136,132];
const swpC60P3=[-17,157,26,183,37.4,177,39,157,45,167,53,162,64,193,78,216,87.5,239,97,270,98.6,208,103,142,118,213,121.5,142,128,183,130.6,75,133,142,136,132];
const swpF60P3=[-17,157,12,178,37.4,193,39,157,53,170,64,193,78,229,87.5,270,96,362,98.6,188,103,142,118,208,121.5,142,128,183,130.6,75,133,142,136,132];
const swpC80P1=[-18,159,36,183,61,203,82,223,101,244,113,269,123,295,129,300,135,300];
const swpF80P1=[-18,162,36,190,61,206,86,218,105,234,121,251,135,254];
const swpC80P2=[-17,159,8.5,172,39,193,70,218,82,249,91,305,97,356,103,417,109,427,131.8,422,132.5,132,136,142];
const swpF80P2=[-17,162,8.5,177,39,200,70,218,82,249,89,264,99,320,109,382,116,420,131.8,420,132.5,116,136,142];
const swpC80P3=[-17,142,-13,162,0,172,37,185,41,172,51,175,78,210,95,239,107,235,112.5,216,122,213,125,183,129,178,131,111,136,142];
const swpF80P3=[-17,147,0,177,37,188,41,177,51,178,78,213,95,225,105,237,107,183,114,188,122,203,124,178,129,180,131,121,136,137];
const swpC120P1=[-18,159,16.5,171,74,187,135,197];
const swpF120P1=[-18,161,16.5,176,74,192,135,200];
const swpC120P2=[-17,171,-13,168,32,178,135.7,197];
const swpF120P2=[-17,168,32,186,132,202,134,202,135.7,156,136,151];
const swpC120P3=[-17,130,-13,156,-1,164,37,174,49,178,60,174,130,192,131,110,133,130,136,135];
const swpF120P3=[-17,135,-13,161,-1,169,45,182,60,179,130,197,131,110,136,130];

// ---- panel registry ----
const swcPanels=[
 [[swcObs10P1,swcF10P1,swcC10P1],[swcObs10P2,swcF10P2,swcC10P2],[swcObs10P3,swcF10P3,swcC10P3]],
 [[swcObs20P1,swcF20P1,swcC20P1],[swcObs20P2,swcF20P2,swcC20P2],[swcObs20P3,swcF20P3,swcC20P3]],
 [[swcObs40P1,swcF40P1,swcC40P1],[swcObs40P2,swcF40P2,swcC40P2],[swcObs40P3,swcF40P3,swcC40P3]],
 [[swcObs60P1,swcF60P1,swcC60P1],[swcObs60P2,swcF60P2,swcC60P2],[swcObs60P3,swcF60P3,swcC60P3]],
 [[swcObs80P1,swcF80P1,swcC80P1],[swcObs80P2,swcF80P2,swcC80P2],[swcObs80P3,swcF80P3,swcC80P3]],
 [[swcObs120P1,swcF120P1,swcC120P1],[swcObs120P2,swcF120P2,swcC120P2],[swcObs120P3,swcF120P3,swcC120P3]]];
const swpPanels=[
 [[swpObs10P1,swpF10P1,swpC10P1],[swpObs10P2,swpF10P2,swpC10P2],[swpObs10P3,swpF10P3,swpC10P3]],
 [[swpObs20P1,swpF20P1,swpC20P1],[swpObs20P2,swpF20P2,swpC20P2],[swpObs20P3,swpF20P3,swpC20P3]],
 [[swpObs40P1,swpF40P1,swpC40P1],[swpObs40P2,swpF40P2,swpC40P2],[swpObs40P3,swpF40P3,swpC40P3]],
 [[swpObs60P1,swpF60P1,swpC60P1],[swpObs60P2,swpF60P2,swpC60P2],[swpObs60P3,swpF60P3,swpC60P3]],
 [[swpObs80P1,swpF80P1,swpC80P1],[swpObs80P2,swpF80P2,swpC80P2],[swpObs80P3,swpF80P3,swpC80P3]],
 [[swpObs120P1,swpF120P1,swpC120P1],[swpObs120P2,swpF120P2,swpC120P2],[swpObs120P3,swpF120P3,swpC120P3]]];
const precipPanels=[[precipDaysP1,precipValsP1],[precipDaysP2,precipValsP2],[precipDaysP3,precipValsP3]];
const rwuPanels=[[rwuPotP1,rwuFJP1,rwuCP1],[rwuPotP2,rwuFJP2,rwuCP2],[rwuPotP3,rwuFJP3,rwuCP3]];

// ---- layout ----
const NS='http://www.w3.org/2000/svg';
const root=document.getElementById('plots');
const leftCols=[91,374,656], rightCols=[1109,1392,1675];
const panelW=273, topY=39, topH=263, rowY=338, rowH=163.4;
let clipCount=0;

function mk(tag,attrs,parent){
  const n=document.createElementNS(NS,tag);
  for(const k in attrs) n.setAttribute(k,attrs[k]);
  parent.appendChild(n);
  return n;
}
function xAxis(x0){return d=>x0+(d-dayDomain[0])*panelW/(dayDomain[1]-dayDomain[0]);}
function yAxis(y0,h,dom,reversed){
  return v=>{const t=(v-dom[0])/(dom[1]-dom[0]);return reversed?y0+t*h:y0+h-t*h;};
}
function drawFrame(g,x0,y0,h,sx,sy,gridVals){
  for(const d of monthDays){
    const l=mk('line',{x1:sx(d),x2:sx(d),y1:y0,y2:y0+h,stroke:'#dcdcdc','stroke-width':3},g);
    
    
  }
  for(const v of gridVals){
    const l=mk('line',{x1:x0,x2:x0+panelW,y1:sy(v),y2:sy(v),stroke:'#dcdcdc','stroke-width':3},g);
    
    
  }
}
function drawBox(g,x0,y0,h,sx,sy,tickVals){
  let p='';
  for(const d of monthDays){p+=`M${sx(d)} ${y0}v5M${sx(d)} ${y0+h}v-5`;}
  for(const v of tickVals){p+=`M${x0} ${sy(v)}h5M${x0+panelW} ${sy(v)}h-5`;}
  const t=mk('path',{d:p,stroke:'#111','stroke-width':2.4,fill:'none'},g);
  
  
  const b=mk('rect',{x:x0,y:y0,width:panelW,height:h,fill:'none',stroke:'#222','stroke-width':3.4},g);
  
  
}
function clipFor(x0,y0,h){
  const id='clip'+(clipCount++);
  const c=mk('clipPath',{id:id},root);
  
  
  const r=mk('rect',{x:x0,y:y0,width:panelW,height:h},c);
  
  
  return id;
}
function pathFromPairs(pairs,sx,sy){
  let d='';
  for(let i=0;i<pairs.length;i+=2){
    d+=(i?'L':'M')+sx(pairs[i]).toFixed(1)+' '+sy(pairs[i+1]).toFixed(1);
  }
  return d;
}
function yLabel(parent,x,y,label){
  const t=mk('text',{x:x,y:y+8.5,'font-size':24.5,'text-anchor':'end'},parent);
  t.textContent=label;
  
  
}
function xLabels(parent,sx){
  monthDays.forEach((d,i)=>{
    const t=mk('text',{x:sx(d)-1.5,y:1352,'font-size':24.5,'text-anchor':'middle'},parent);
    t.textContent=monthLabels[i];
    
    
  });
}

// precipitation panels
precipPanels.forEach((series,c)=>{
  const x0=leftCols[c], sx=xAxis(x0), sy=yAxis(topY,topH,precipDomain,true);
  const g=mk('g',{},root);
  
  
  drawFrame(g,x0,topY,topH,sx,sy,precipGrid);
  series[0].forEach((d,i)=>{
    const b=mk('rect',{x:sx(d)-1.6,y:topY,width:3.2,height:sy(series[1][i])-topY,fill:'#2c2a87'},g);
    
    
  });
  drawBox(g,x0,topY,topH,sx,sy,precipGrid);
  if(c===0){
    precipTicks.forEach(v=>{
      yLabel(g,83,v===0?43:(v===6?303:sy(v)),String(v));
    });
  }
});

// root water uptake panels
rwuPanels.forEach((series,c)=>{
  const x0=rightCols[c], sx=xAxis(x0), sy=yAxis(topY,topH,rwuDomain,false);
  const g=mk('g',{},root);
  
  
  drawFrame(g,x0,topY,topH,sx,sy,rwuGrid);
  const clip=clipFor(x0,topY,topH);
  const colors=['#000','#f00','#00f'];
  series.forEach((pairs,k)=>{
    const l=mk('path',{d:pathFromPairs(pairs,sx,sy),fill:'none',stroke:colors[k],'stroke-width':2.6,'stroke-linejoin':'round','clip-path':`url(#${clip})`},g);
    
    
  });
  drawBox(g,x0,topY,topH,sx,sy,rwuGrid);
  if(c===0){
    rwuTicks.forEach((v,i)=>{
      yLabel(g,1101,v===0?303:(v===600?43:sy(v)),rwuTickLabels[i]);
    });
  }
});

// SWC / SWP grids
function drawGrid(panels,cols,dom,grid,labels,labelX){
  panels.forEach((rowData,r)=>{
    const y0=rowY+r*rowH;
    rowData.forEach((series,c)=>{
      const x0=cols[c], sx=xAxis(x0), sy=yAxis(y0,rowH,dom,false);
      const g=mk('g',{},root);
      
      
      drawFrame(g,x0,y0,rowH,sx,sy,grid);
      const clip=clipFor(x0,y0,rowH);
      const obs=series[0];
      for(let i=0;i<obs.length;i++){
        if(obs[i]===undefined) continue;
        const m=mk('circle',{cx:sx(obsFirstDay+i*obsStepDays).toFixed(1),cy:sy(obs[i]).toFixed(1),r:5.3,fill:'none',stroke:'#1a1a1a','stroke-width':1.5},g);
        
        
      }
      const f=mk('path',{d:pathFromPairs(series[1],sx,sy),fill:'none',stroke:'#f00','stroke-width':3.6,'stroke-linejoin':'round','clip-path':`url(#${clip})`},g);
      
      
      const b=mk('path',{d:pathFromPairs(series[2],sx,sy),fill:'none',stroke:'#00f','stroke-width':3.6,'stroke-linejoin':'round','clip-path':`url(#${clip})`},g);
      
      
      drawBox(g,x0,y0,rowH,sx,sy,grid);
      if(c===0){
        grid.forEach((v,i)=>{ if(labels[i]) yLabel(g,labelX,sy(v),labels[i]); });
      }
      if(r===panels.length-1) xLabels(g,sx);
    });
  });
}
drawGrid(swcPanels,leftCols,swcDomain,swcGrid,swcTickLabels,82);
drawGrid(swpPanels,rightCols,swpDomain,swpGrid,swpTickLabels,1101);
</script>
</body>
</html>
